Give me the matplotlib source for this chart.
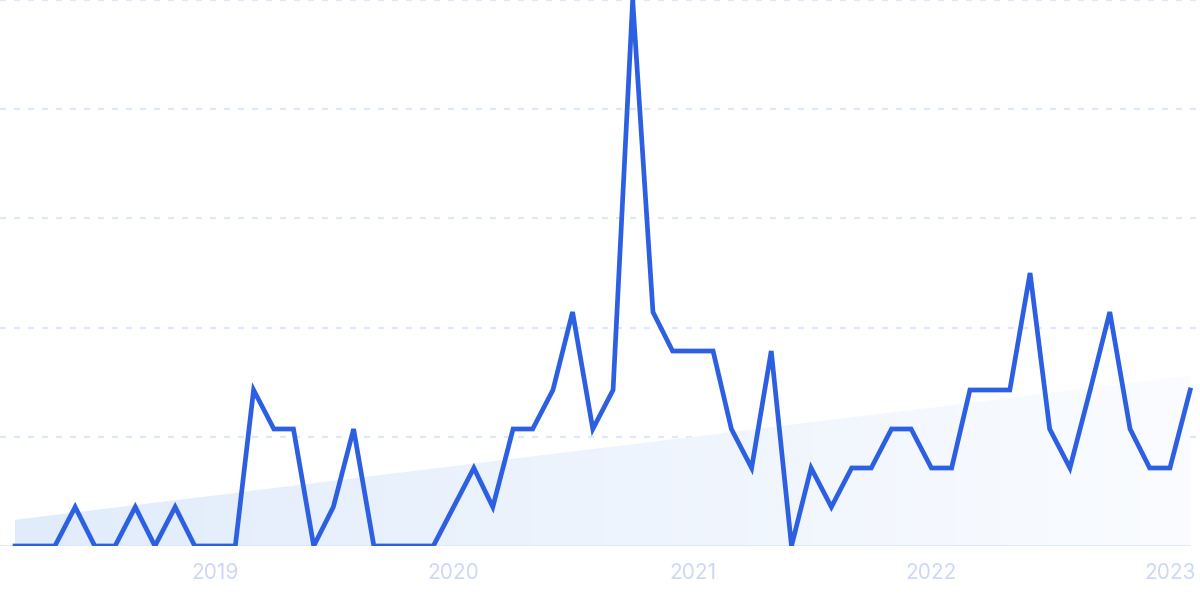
import numpy as np
import pandas as pd
import matplotlib
matplotlib.use("Agg")
import matplotlib.pyplot as plt
import matplotlib.dates as mdates
from matplotlib.colors import LinearSegmentedColormap

# monthly values, Mar 2018 .. Feb 2023
start_month = "2018-03-01"
counts = [
    0, 0, 0, 1, 0, 0, 1, 0, 1, 0,              # 2018 (Mar-Dec)
    0, 0, 4, 3, 3, 0, 1, 3, 0, 0, 0, 0,        # 2019
    1, 2, 1, 3, 3, 4, 6, 3, 4, 14, 6, 5,       # 2020
    5, 5, 3, 2, 5, 0, 2, 1, 2, 2, 3, 3,        # 2021
    2, 2, 4, 4, 4, 7, 3, 2, 4, 6, 3, 2,        # 2022
    2, 4,                                      # 2023 (Jan-Feb)
]
tick_years = [2019, 2020, 2021, 2022, 2023]
y_max = 14
n_grid = 5

line_color = "#2c5fe2"
grid_color = "#dfe8fa"
label_color = "#cdd8f5"

dates = pd.date_range(start_month, periods=len(counts), freq="MS")
values = np.array(counts, dtype=float)

fig = plt.figure(figsize=(12, 5.99), dpi=100)
ax = fig.add_axes([0, 0.0885, 1, 0.9115])

xnum = mdates.date2num(dates)
x0 = xnum[0] - 23
x1 = xnum[-1] + 15
ax.set_xlim(x0, x1)
ax.set_ylim(0, y_max)

# linear trend area with a soft gradient
coef = np.polyfit(np.arange(len(values)), values, 1)
trend = np.polyval(coef, np.arange(len(values)))
poly = ax.fill_between(xnum, 0, trend, color="none", lw=0)
cmap = LinearSegmentedColormap.from_list("fade", ["#e1ecfb", "#fafcff"])
grad = np.linspace(0, 1, 256).reshape(1, -1)
img = ax.imshow(grad, cmap=cmap, aspect="auto", extent=[xnum[0], xnum[-1], 0, trend.max()],
                zorder=1, interpolation="bicubic")
img.set_clip_path(poly.get_paths()[0], transform=ax.transData)

# dashed grid lines
for lvl in np.linspace(0, y_max, n_grid + 1)[1:]:
    ax.axhline(lvl, color=grid_color, lw=1.6, ls=(0, (2.7, 3.6)), zorder=0, clip_on=False)
ax.plot([x0, xnum[-1]], [0, 0], color="#dce7f8", lw=2, zorder=2, solid_capstyle="butt")

ax.plot(xnum, values, color=line_color, lw=3.4, zorder=3, solid_joinstyle="miter")

ax.set_xticks(mdates.date2num([pd.Timestamp(f"{y}-01-01") for y in tick_years]))
ax.set_xticklabels([str(y) for y in tick_years], fontsize=15, color=label_color, family="Inter")
ax.tick_params(axis="x", length=0, pad=12)
ax.set_yticks([])
for s in ax.spines.values():
    s.set_visible(False)

fig.savefig("out.png", dpi=100)
